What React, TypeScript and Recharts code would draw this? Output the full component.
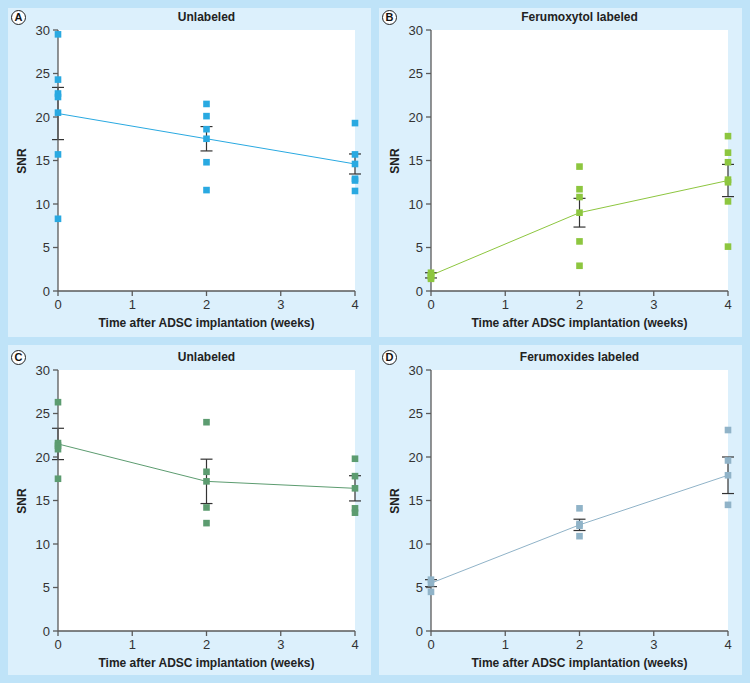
import { CartesianGrid, ComposedChart, ErrorBar, Line, Scatter, XAxis, YAxis } from "recharts"

const FONT = '"Liberation Sans", Arial, Helvetica, sans-serif'

const weeks = [0, 2, 4]
const xTicks = [0, 1, 2, 3, 4]
const yTicks = [0, 5, 10, 15, 20, 25, 30]

// A: unlabeled
const aWeek0 = [29.5, 24.3, 22.7, 22.3, 20.5, 15.7, 8.3]
const aWeek2 = [21.5, 20.1, 18.6, 17.5, 14.8, 11.6]
const aWeek4 = [19.3, 15.7, 14.6, 12.9, 12.7, 11.5]
const aMean = [20.4, 17.5, 14.6]
const aErr = [3.0, 1.4, 1.15]

// B: ferumoxytol labeled
const bWeek0 = [2.1, 1.8, 1.6, 1.4]
const bWeek2 = [14.3, 11.7, 10.8, 9.0, 5.7, 2.9]
const bWeek4 = [17.8, 15.9, 14.8, 12.8, 12.5, 10.3, 5.1]
const bMean = [1.8, 9.0, 12.7]
const bErr = [0.3, 1.65, 1.85]

// C: unlabeled
const cWeek0 = [26.3, 21.6, 21.3, 20.9, 17.5]
const cWeek2 = [24.0, 18.3, 17.2, 14.2, 12.4]
const cWeek4 = [19.8, 17.8, 16.4, 14.1, 13.6]
const cMean = [21.5, 17.2, 16.4]
const cErr = [1.8, 2.55, 1.45]

// D: ferumoxides labeled
const dWeek0 = [5.9, 5.5, 4.5]
const dWeek2 = [14.1, 12.3, 12.1, 10.9]
const dWeek4 = [23.1, 19.6, 17.9, 14.5]
const dMean = [5.5, 12.2, 17.9]
const dErr = [0.4, 0.65, 2.1]

const PLOT_W = 297
const PLOT_H = 261
const AXIS = "#5a5a5a"

type PanelProps = {
  left: number
  top: number
  height: number
  plotLeft: number
  plotTop: number
  letter: string
  title: string
  color: string
  groups: number[][]
  mean: number[]
  err: number[]
}

function Square(props: any) {
  const { cx, cy, fill } = props
  if (cx == null || cy == null) return null
  return <rect x={cx - 3.3} y={cy - 3.3} width={6.6} height={6.6} fill={fill} />
}

function Panel({ left, top, height, plotLeft, plotTop, letter, title, color, groups, mean, err }: PanelProps) {
  const width = 363
  const points = groups.flatMap((g, i) => g.map((y) => ({ x: weeks[i], y })))
  const means = mean.map((y, i) => ({ x: weeks[i], y, err: err[i] }))
  const xAxisH = 30
  const bottom = height - plotTop - PLOT_H - xAxisH
  const textStyle = { position: "absolute" as const, fontFamily: FONT, fontWeight: 700, fontSize: 12, color: "#222", lineHeight: "14px", whiteSpace: "nowrap" as const }
  return (
    <div style={{ position: "absolute", left, top, width, height, background: "#dcf0fc" }}>
      <ComposedChart
        width={width}
        height={height}
        margin={{ top: plotTop, right: width - plotLeft - PLOT_W, bottom, left: 0 }}
      >
        <CartesianGrid fill="#ffffff" stroke="none" horizontal={false} vertical={false} />
        <XAxis
          dataKey="x"
          type="number"
          domain={[0, 4]}
          ticks={xTicks}
          height={xAxisH}
          stroke={AXIS}
          strokeWidth={1.3}
          tickSize={5}
          tickMargin={4}
          tick={{ fill: "#333", fontSize: 13, fontFamily: FONT }}
        />
        <YAxis
          type="number"
          domain={[0, 30]}
          ticks={yTicks}
          width={plotLeft}
          stroke={AXIS}
          strokeWidth={1.3}
          tickSize={5}
          tickMargin={3}
          tick={{ fill: "#333", fontSize: 13, fontFamily: FONT }}
        />
        <Scatter data={points} dataKey="y" fill={color} shape={Square} isAnimationActive={false} />
        <Line
          data={means}
          dataKey="y"
          type="linear"
          stroke={color}
          strokeWidth={1}
          dot={false}
          activeDot={false}
          isAnimationActive={false}
        >
          <ErrorBar dataKey="err" direction="y" width={6} stroke="#333" strokeWidth={1.2} />
        </Line>
      </ComposedChart>
      <div style={{ ...textStyle, left: plotLeft, width: PLOT_W, top: plotTop - 20, textAlign: "center" }}>{title}</div>
      <div style={{ ...textStyle, left: plotLeft, width: PLOT_W, top: plotTop + PLOT_H + 25, textAlign: "center" }}>
        Time after ADSC implantation (weeks)
      </div>
      <div
        style={{
          ...textStyle,
          left: plotLeft - 36 - 20,
          width: 40,
          top: plotTop + PLOT_H / 2 - 7,
          textAlign: "center",
          transform: "rotate(-90deg)",
        }}
      >
        SNR
      </div>
      <div
        style={{
          position: "absolute",
          left: 10.5 - 7.5,
          top: plotTop - 13 - 7.5,
          width: 13,
          height: 13,
          border: "1px solid #222",
          borderRadius: "50%",
          background: "#fff",
          fontFamily: FONT,
          fontWeight: 700,
          fontSize: 11,
          lineHeight: "13px",
          textAlign: "center",
          color: "#111",
        }}
      >
        {letter}
      </div>
    </div>
  )
}

export default function App() {
  return (
    <div style={{ position: "absolute", left: 0, top: 0, width: 750, height: 683, background: "#bfe3f8", overflow: "hidden" }}>
      <Panel left={8} top={8} height={329} plotLeft={50} plotTop={22} letter="A" title="Unlabeled" color="#29a9e1" groups={[aWeek0, aWeek2, aWeek4]} mean={aMean} err={aErr} />
      <Panel left={379} top={8} height={329} plotLeft={52} plotTop={22} letter="B" title="Ferumoxytol labeled" color="#8dc63f" groups={[bWeek0, bWeek2, bWeek4]} mean={bMean} err={bErr} />
      <Panel left={8} top={345} height={330} plotLeft={50} plotTop={25} letter="C" title="Unlabeled" color="#5c9c70" groups={[cWeek0, cWeek2, cWeek4]} mean={cMean} err={cErr} />
      <Panel left={379} top={345} height={330} plotLeft={52} plotTop={25} letter="D" title="Ferumoxides labeled" color="#90b3c8" groups={[dWeek0, dWeek2, dWeek4]} mean={dMean} err={dErr} />
    </div>
  )
}
